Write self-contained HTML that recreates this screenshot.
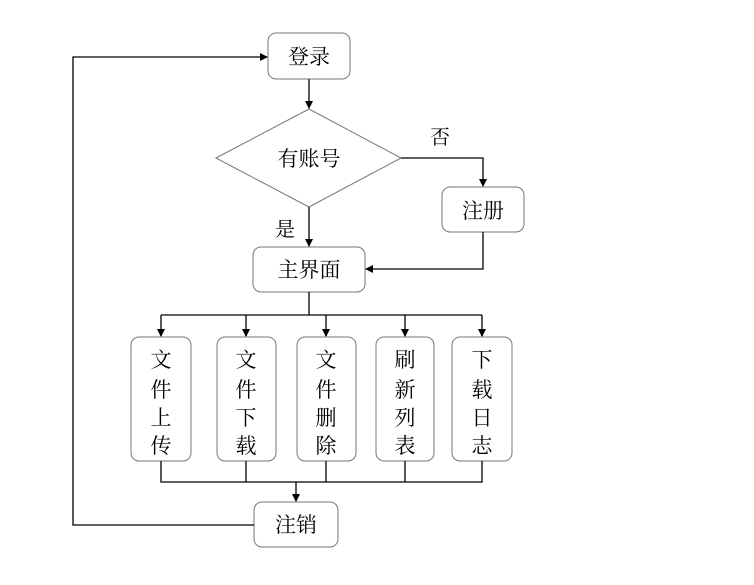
<!DOCTYPE html>
<html><head><meta charset="utf-8"><style>
html,body{margin:0;padding:0;background:#fff;width:754px;height:585px;overflow:hidden}
text{font-family:"Liberation Serif","Noto Serif CJK SC","Noto Sans CJK SC",serif;fill:#000}
</style></head><body>
<svg width="754" height="585" viewBox="0 0 754 585" xmlns="http://www.w3.org/2000/svg">
<defs><marker id="a" markerWidth="8" markerHeight="8" refX="7" refY="4" orient="auto" markerUnits="userSpaceOnUse"><path d="M0,0 L8,4 L0,8 z" fill="#000"/></marker></defs>
<g fill="#fff" stroke="#777" stroke-width="1">
<rect x="268" y="33" width="82" height="46" rx="8"/>
<polygon points="216,158 309,109 401,158 309,207"/>
<rect x="442" y="187" width="82" height="45" rx="8"/>
<rect x="253" y="247" width="112" height="45" rx="8"/>
<rect x="131" y="337" width="60" height="124" rx="8"/>
<rect x="217" y="337" width="59" height="124" rx="8"/>
<rect x="297" y="337" width="59" height="124" rx="8"/>
<rect x="376" y="337" width="58" height="124" rx="8"/>
<rect x="452" y="337" width="60" height="124" rx="8"/>
<rect x="254" y="502" width="84" height="45" rx="8"/>
</g>
<g fill="none" stroke="#000" stroke-width="1.3">
<path d="M309,79 V108" marker-end="url(#a)"/>
<path d="M401,158 H483 V186" marker-end="url(#a)"/>
<path d="M309,207 V246" marker-end="url(#a)"/>
<path d="M483,232 V269 H366" marker-end="url(#a)"/>
<path d="M309,292 V315"/>
<path d="M161,315 H482"/>
<path d="M161,315 V336" marker-end="url(#a)"/>
<path d="M246,315 V336" marker-end="url(#a)"/>
<path d="M326,315 V336" marker-end="url(#a)"/>
<path d="M405,315 V336" marker-end="url(#a)"/>
<path d="M482,315 V336" marker-end="url(#a)"/>
<path d="M161,461 V482 H482 V461 M246,461 V482 M326,461 V482 M405,461 V482"/>
<path d="M296,482 V501" marker-end="url(#a)"/>
<path d="M254,525 H73 V57 H267" marker-end="url(#a)"/>
</g>
<g font-size="21" text-anchor="middle">
<text x="309" y="64">登录</text>
<text x="309" y="166">有账号</text>
<text x="483" y="218">注册</text>
<text x="309" y="277">主界面</text>
<text x="296" y="532">注销</text>
<text x="440" y="144" font-size="20">否</text>
<text x="285" y="236" font-size="20">是</text>
</g>
<g font-size="21" text-anchor="middle">
<text x="161" y="367">文</text><text x="161" y="397">件</text><text x="161" y="425">上</text><text x="161" y="453">传</text>
<text x="246" y="367">文</text><text x="246" y="397">件</text><text x="246" y="425">下</text><text x="246" y="453">载</text>
<text x="326" y="367">文</text><text x="326" y="397">件</text><text x="326" y="425">删</text><text x="326" y="453">除</text>
<text x="405" y="367">刷</text><text x="405" y="397">新</text><text x="405" y="425">列</text><text x="405" y="453">表</text>
<text x="482" y="367">下</text><text x="482" y="397">载</text><text x="482" y="425">日</text><text x="482" y="453">志</text>
</g>
</svg>
</body></html>
